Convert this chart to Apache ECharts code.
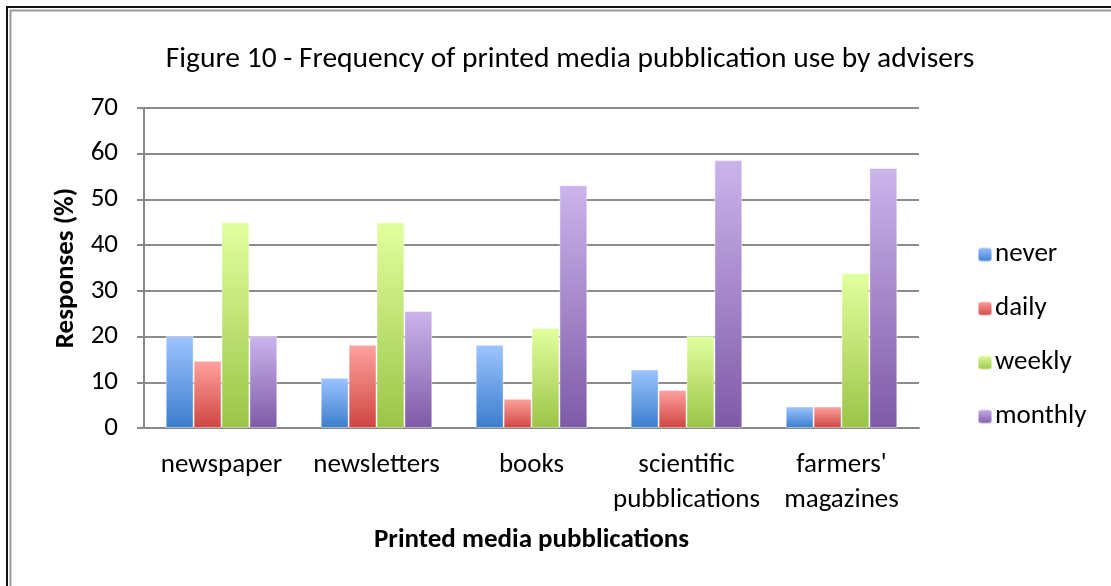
<!DOCTYPE html>
<html>
<head>
<meta charset="utf-8">
<script src="https://cdn.jsdelivr.net/npm/echarts@6/dist/echarts.min.js"></script>
<style>
  html, body { margin: 0; padding: 0; background: #fff; }
  #chart { width: 1111px; height: 586px; }
</style>
</head>
<body>
<div id="chart"></div>
<script>
const categories = ['newspaper', 'newsletters', 'books', 'scientific\npubblications', 'farmers\'\nmagazines']
const never = [20.1, 11.0, 18.2, 12.8, 4.7]
const daily = [14.7, 18.2, 6.4, 8.3, 4.7]
const weekly = [45.0, 45.0, 21.9, 20.1, 33.9]
const monthly = [20.1, 25.6, 53.1, 58.6, 56.9]

const font = 'Carlito, Lato, sans-serif'

function grad(top, bottom) {
  return new echarts.graphic.LinearGradient(0, 0, 0, 1, [
    { offset: 0, color: top },
    { offset: 1, color: bottom }
  ])
}

const seriesDefs = [
  { name: 'never', data: never, color: grad('#9dc4ff', '#3b7dcd') },
  { name: 'daily', data: daily, color: grad('#ffa29e', '#cf4541') },
  { name: 'weekly', data: weekly, color: grad('#e2ff9e', '#9bc447') },
  { name: 'monthly', data: monthly, color: grad('#cbb4ec', '#7e5aa7') }
]

const chart = echarts.init(document.getElementById('chart'))
chart.setOption({
  backgroundColor: '#fff',
  animation: false,
  textStyle: { fontFamily: font, color: '#000' },
  graphic: [
    {
      type: 'rect',
      shape: { x: 7, y: 7, width: 1200, height: 700 },
      style: { fill: 'none', stroke: '#111', lineWidth: 2 }
    },
    {
      type: 'rect',
      shape: { x: 10.5, y: 10.5, width: 1200, height: 700 },
      style: { fill: 'none', stroke: '#999', lineWidth: 2 }
    }
  ],
  title: {
    text: 'Figure 10 - Frequency of printed media pubblication use by advisers',
    left: 565,
    textAlign: 'center',
    top: 40,
    textStyle: { fontFamily: font, fontSize: 29.5, fontWeight: 'normal', color: '#000' }
  },
  legend: {
    orient: 'vertical',
    left: 972,
    top: 236,
    itemWidth: 14,
    itemHeight: 14,
    itemGap: 27,
    data: ['never', 'daily', 'weekly', 'monthly'],
    textStyle: { fontFamily: font, fontSize: 27, lineHeight: 24, color: '#000', padding: [0, 0, 0, -2] }
  },
  grid: {
    left: 144,
    right: 192,
    top: 108,
    bottom: 158
  },
  xAxis: {
    type: 'category',
    data: categories,
    name: 'Printed media pubblications',
    nameLocation: 'middle',
    nameGap: 99,
    nameTextStyle: { fontFamily: font, fontSize: 27, fontWeight: 'bold', color: '#000' },
    axisLine: { lineStyle: { color: '#888', width: 2 } },
    axisTick: { show: false },
    axisLabel: { interval: 0, margin: 20, fontSize: 27, lineHeight: 35, color: '#000', fontFamily: font }
  },
  yAxis: {
    type: 'value',
    min: 0,
    max: 70,
    interval: 10,
    name: 'Responses (%)',
    nameLocation: 'middle',
    nameGap: 45,
    nameTextStyle: { fontFamily: font, fontSize: 27, fontWeight: 'bold', color: '#000' },
    axisLine: { show: true, lineStyle: { color: '#888', width: 2 } },
    axisTick: { show: true, length: 7, lineStyle: { color: '#888', width: 2 } },
    axisLabel: { margin: 26, fontSize: 27, color: '#000', fontFamily: font },
    splitLine: { lineStyle: { color: '#8c8c8c', width: 2 } }
  },
  series: seriesDefs.map(s => ({
    name: s.name,
    type: 'bar',
    data: s.data,
    barGap: '0%',
    barCategoryGap: '28%',
    itemStyle: { color: s.color, borderColor: 'rgba(255,255,255,0.45)', borderWidth: 1 }
  }))
})
</script>
</body>
</html>
